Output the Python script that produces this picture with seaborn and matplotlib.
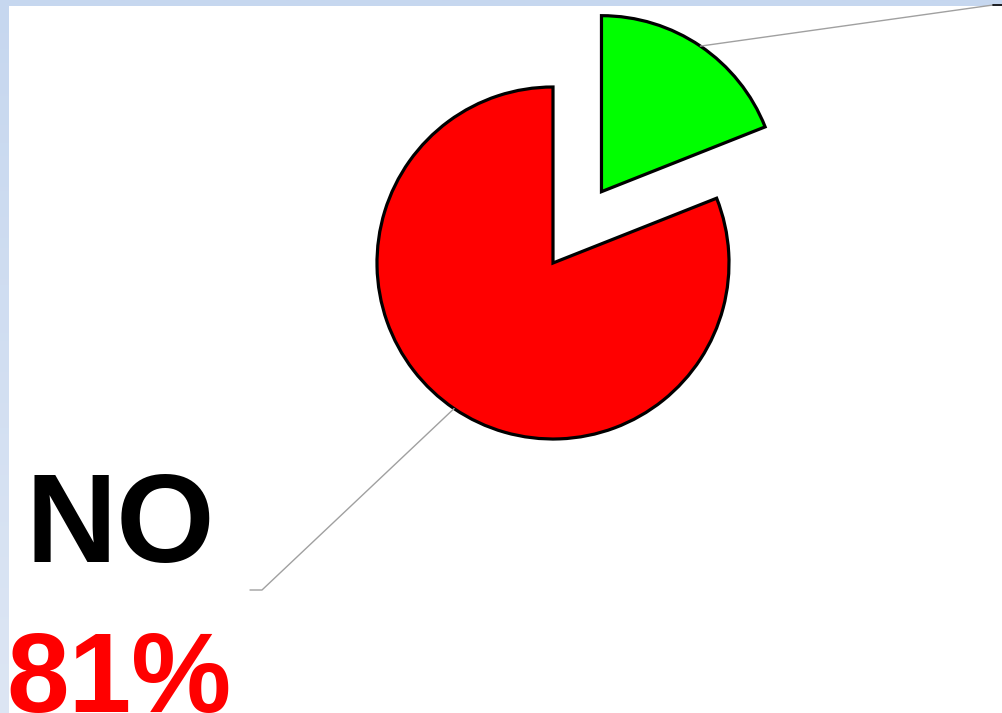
import numpy as np
import matplotlib
matplotlib.use('Agg')
import matplotlib.pyplot as plt
import matplotlib.colors as mcolors
import seaborn as sns

# Dati della torta (la seconda etichetta è fuori dall'immagine)
categorie = ['SI', 'NO']
percentuali = [19, 81]
colori = ['#00FF00', '#FF0000']
esploso = [0.49, 0]   # frazione del raggio

sns.set_theme(style='white')
plt.rcParams['font.family'] = ['Liberation Sans', 'DejaVu Sans']

W, H = 1003, 713
fig = plt.figure(figsize=(W / 100, H / 100), dpi=100)

# sfondo azzurro sfumato (bordo della slide)
bg = fig.add_axes([0, 0, 1, 1])
grad = np.linspace(0, 1, 256).reshape(-1, 1)
cmap = mcolors.LinearSegmentedColormap.from_list('bordo', ['#C6D7EF', '#DDE6F4'])
bg.imshow(grad, aspect='auto', cmap=cmap, extent=[0, 1, 0, 1])
bg.set_axis_off()

# area bianca del grafico, coordinate in pixel (y verso l'alto)
ax = fig.add_axes([9 / W, 0, (W - 9) / W, (H - 6) / H])
ax.set_facecolor('white')
for s in ax.spines.values():
    s.set_visible(False)

centro = (553, H - 263)
raggio = 176

wedges, _ = ax.pie(percentuali, colors=colori, explode=[e * raggio for e in esploso],
                   startangle=90, counterclock=False, center=centro, radius=raggio,
                   frame=True, wedgeprops=dict(edgecolor='black', linewidth=2.3))

ax.set_xlim(9, W)
ax.set_ylim(0, H - 6)
ax.set_aspect('equal', adjustable='box')
ax.set_xticks([])
ax.set_yticks([])

# linee guida verso le etichette
def punto_bordo(w):
    ang = np.deg2rad((w.theta1 + w.theta2) / 2)
    cx, cy = w.center
    return cx + w.r * np.cos(ang), cy + w.r * np.sin(ang)

x0, y0 = punto_bordo(wedges[1])
ax.plot([x0, 262, 250], [y0, H - 590, H - 590], color='#A0A0A0', lw=1, clip_on=False)
x1, y1 = punto_bordo(wedges[0])
ax.plot([x1, 993], [y1, H - 5], color='#A0A0A0', lw=1, clip_on=False)
ax.plot([993, 1003], [H - 5, H - 5], color='black', lw=1.2, clip_on=False)

ax.text(25, H - 562, categorie[1], fontsize=91, fontweight='bold', color='black',
        ha='left', va='baseline')
ax.text(6, H - 712, f'{percentuali[1]}%', fontsize=81, fontweight='bold', color='#FF0000',
        ha='left', va='baseline', clip_on=False)

fig.savefig('out.png', dpi=100)
